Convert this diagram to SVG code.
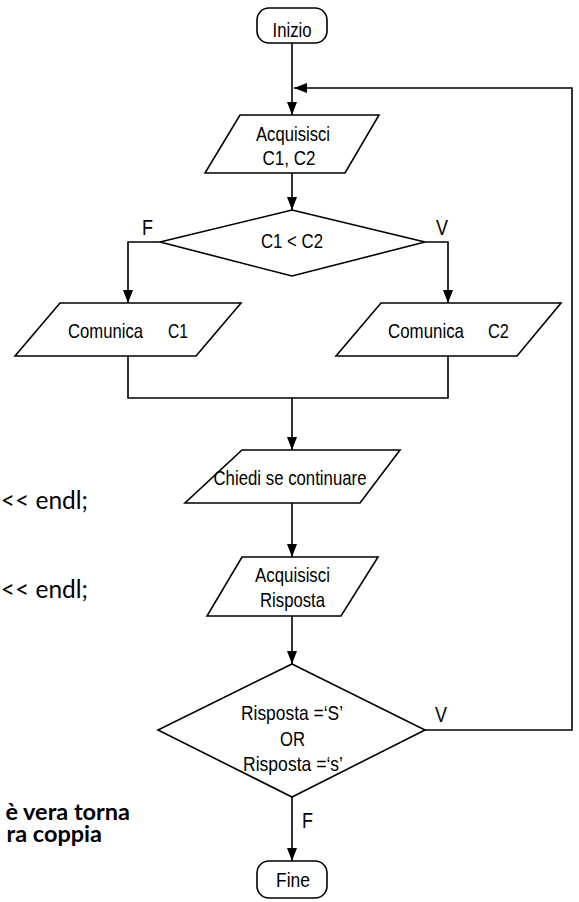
<svg xmlns="http://www.w3.org/2000/svg" width="579" height="902" viewBox="0 0 579 902">
<style>
.shape{fill:#fff;stroke:#000;stroke-width:1.6;stroke-linejoin:miter}
.conn{fill:none;stroke:#000;stroke-width:1.6}
.t{font-family:"Liberation Sans",Arial,sans-serif;font-size:21px;fill:#000;text-anchor:middle}
.lbl{font-family:"Liberation Sans",Arial,sans-serif;font-size:22px;fill:#000}
.side{font-family:Lato,"Open Sans",sans-serif;font-size:24.5px;fill:#000;text-anchor:end}
.bold{font-weight:bold;font-size:23.5px}
</style>
<defs>
<marker id="arr" viewBox="0 0 13 10" refX="13" refY="5" markerWidth="13" markerHeight="10" markerUnits="userSpaceOnUse" orient="auto">
<path d="M0,0 L13,5 L0,10 z" fill="#000"/>
</marker>
</defs>
<rect width="579" height="902" fill="#fff"/>

<g id="side-text">
<text class="side" x="88" y="509">&lt;&lt; endl;</text>
<text class="side" x="88" y="598">&lt;&lt; endl;</text>
<text class="side bold"><tspan x="130" y="820">è vera torna</tspan><tspan x="102" y="842">ra coppia</tspan></text>
</g>

<g id="connectors">
<path class="conn" d="M292,43 V115" marker-end="url(#arr)"/>
<path class="conn" d="M425,730 H572 V88 H294" marker-end="url(#arr)"/>
<path class="conn" d="M292,173 V210" marker-end="url(#arr)"/>
<path class="conn" d="M160,242 H128 V303" marker-end="url(#arr)"/>
<path class="conn" d="M425,242 H448 V303" marker-end="url(#arr)"/>
<path class="conn" d="M128,356 V398 H292 V450" marker-end="url(#arr)"/>
<path class="conn" d="M448,356 V398 H292"/>
<path class="conn" d="M292,503 V557" marker-end="url(#arr)"/>
<path class="conn" d="M292,616 V664" marker-end="url(#arr)"/>
<path class="conn" d="M292,797 V861" marker-end="url(#arr)"/>
<text class="lbl" x="142" y="235" textLength="11" lengthAdjust="spacingAndGlyphs">F</text>
<text class="lbl" x="436" y="235" textLength="12" lengthAdjust="spacingAndGlyphs">V</text>
<text class="lbl" x="435" y="722" textLength="12" lengthAdjust="spacingAndGlyphs">V</text>
<text class="lbl" x="302" y="828" textLength="11" lengthAdjust="spacingAndGlyphs">F</text>
</g>

<g id="inizio">
<rect class="shape" x="257" y="8" width="70" height="35" rx="12"/>
<text class="t" x="292" y="37" textLength="39" lengthAdjust="spacingAndGlyphs">Inizio</text>
</g>

<g id="acquisisci-c">
<polygon class="shape" points="240,115 379,115 345,173 205,173"/>
<text class="t" x="293" y="141" textLength="74" lengthAdjust="spacingAndGlyphs">Acquisisci</text>
<text class="t" x="289" y="165" textLength="53" lengthAdjust="spacingAndGlyphs">C1, C2</text>
</g>

<g id="decisione-c">
<polygon class="shape" points="292,210 425,242 292,276 160,242"/>
<text class="t" x="292" y="248" textLength="62" lengthAdjust="spacingAndGlyphs">C1 &lt; C2</text>
</g>

<g id="comunica-c1">
<polygon class="shape" points="60,303 241,303 196,356 15,356"/>
<text class="t" style="text-anchor:start" y="338"><tspan x="68" textLength="75" lengthAdjust="spacingAndGlyphs">Comunica</tspan><tspan x="168" textLength="20" lengthAdjust="spacingAndGlyphs">C1</tspan></text>
</g>

<g id="comunica-c2">
<polygon class="shape" points="381,303 561,303 517,356 336,356"/>
<text class="t" style="text-anchor:start" y="338"><tspan x="388" textLength="76" lengthAdjust="spacingAndGlyphs">Comunica</tspan><tspan x="488" textLength="21" lengthAdjust="spacingAndGlyphs">C2</tspan></text>
</g>

<g id="chiedi">
<polygon class="shape" points="242,450 400,450 360,503 185,503"/>
<text class="t" x="290" y="485" textLength="153" lengthAdjust="spacingAndGlyphs">Chiedi se continuare</text>
</g>

<g id="acquisisci-risposta">
<polygon class="shape" points="242,557 378,557 341,616 207,616"/>
<text class="t" x="292.5" y="582" textLength="75" lengthAdjust="spacingAndGlyphs">Acquisisci</text>
<text class="t" x="292.5" y="607" textLength="65" lengthAdjust="spacingAndGlyphs">Risposta</text>
</g>

<g id="decisione-risposta">
<polygon class="shape" points="292,664 425,730 292,797 158,730"/>
<text class="t" x="292" y="720" textLength="102" lengthAdjust="spacingAndGlyphs">Risposta =‘S’</text>
<text class="t" x="292.5" y="746" textLength="25" lengthAdjust="spacingAndGlyphs">OR</text>
<text class="t" x="293" y="771" textLength="100" lengthAdjust="spacingAndGlyphs">Risposta =‘s’</text>
</g>

<g id="fine">
<rect class="shape" x="257" y="861" width="70" height="37" rx="12"/>
<text class="t" x="293" y="887" textLength="34" lengthAdjust="spacingAndGlyphs">Fine</text>
</g>
</svg>
